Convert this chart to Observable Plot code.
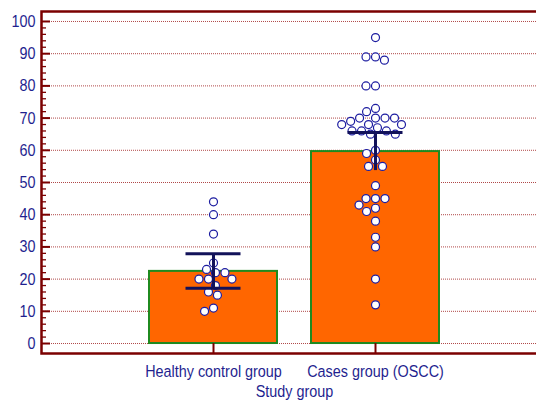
<!DOCTYPE html>
<html><head><meta charset="utf-8">
<script src="https://cdn.jsdelivr.net/npm/d3@7"></script>
<script src="https://cdn.jsdelivr.net/npm/@observablehq/plot@0.6"></script>
<style>
html,body{margin:0;padding:0;overflow:hidden;background:#fff;}
#chart{position:relative;width:536px;height:402px;overflow:hidden;}
#chart svg{position:absolute;left:0;top:0;}
</style></head><body><div id="chart"></div>
<script>
// ---- data ----
const groups = ["Healthy control group", "Cases group (OSCC)"];
const groupMeans = [22.4, 59.6];
const ciLow = [17.2, 53.7];
const ciHigh = [27.9, 65.5];
const lowCapShown = [true, false];
const healthyValues = [44, 40, 34, 25, 23, 22, 22, 20, 20, 20, 18, 16, 15, 11, 10];
const casesValues = [95, 89, 89, 88, 80, 80, 73, 72, 70, 70, 70, 70, 69, 68, 68, 68, 67, 66, 66, 66, 65, 65, 60, 59, 57, 55, 55, 49, 45, 45, 45, 43, 42, 41, 38, 33, 30, 20, 12];
const yTicks = [0, 10, 20, 30, 40, 50, 60, 70, 80, 90, 100];
const yMinorTicks = d3.range(2, 100, 2).filter(v => v % 10 !== 0);
const yDomain = [-3.1, 103.1];
const axisTitle = "Study group";

// ---- styling ----
const W = 536, H = 402;
const navy = "#1f1f8f", darkRed = "#7b0000";
const font = {fontFamily: "'Liberation Sans', Arial, sans-serif", fontSize: "14.4px"};

const groupRows = groups.map((g, i) => ({group: g, mean: groupMeans[i], lo: ciLow[i], hi: ciHigh[i], lowCap: lowCapShown[i]}));
const pointRows = [
  ...healthyValues.map(v => ({group: groups[0], value: v})),
  ...casesValues.map(v => ({group: groups[1], value: v}))
];
const capRows = [
  ...groupRows.map(d => ({group: d.group, y: d.hi})),
  ...groupRows.filter(d => d.lowCap).map(d => ({group: d.group, y: d.lo}))
];

const backMarginLeft = 41, backMarginRight = -6;
const frameW = W - backMarginLeft - backMarginRight;

const back = Plot.plot({
  width: W, height: H,
  marginLeft: backMarginLeft, marginRight: backMarginRight, marginTop: 11, marginBottom: 49,
  style: {...font, color: navy, background: "white"},
  y: {domain: yDomain, ticks: yTicks, tickSize: 0, tickPadding: 6, label: null, tickFormat: d => String(d)},
  marks: [
    Plot.ruleY(yTicks, {stroke: "#b04848", strokeDasharray: "1,1", strokeWidth: 1}),
    Plot.tickY(yMinorTicks, {stroke: darkRed, strokeWidth: 1.3, insetRight: frameW - 5}),
    Plot.tickY(yTicks, {stroke: darkRed, strokeWidth: 2, insetRight: frameW - 9}),
    Plot.frame({stroke: darkRed, strokeWidth: 2.5})
  ]
});

const front = Plot.plot({
  width: W, height: H,
  marginLeft: 68, marginRight: 16, marginTop: 11, marginBottom: 49,
  style: {...font, color: navy, background: "transparent"},
  fx: {domain: groups, paddingInner: 0.21, paddingOuter: 0.5, axis: "bottom", label: axisTitle,
       labelAnchor: "center", labelOffset: 43, tickSize: 0, tickPadding: 12},
  y: {domain: yDomain, axis: null},
  marks: [
    Plot.barY(groupRows, {fx: "group", y: "mean", fill: "#ff6600", stroke: "#1f8a1f", strokeWidth: 2}),
    Plot.ruleX(groupRows, {fx: "group", x: null, y1: yDomain[0], y2: 0, stroke: darkRed, strokeWidth: 2}),
    Plot.dot(pointRows, Plot.dodgeX({anchor: "middle", padding: 1.5},
      {fx: "group", y: "value", r: 4, fill: "white", stroke: "#1c1ca0", strokeWidth: 1.2})),
    Plot.ruleX(groupRows, {fx: "group", x: null, y1: "lo", y2: "hi", stroke: "#12125a", strokeWidth: 3}),
    Plot.tickY(capRows, {fx: "group", y: "y", stroke: "#12125a", strokeWidth: 3, insetLeft: 36.5, insetRight: 36.5})
  ]
});

const chart = document.getElementById("chart");
chart.appendChild(back);
chart.appendChild(front);

// the reference text is slightly stretched vertically
for (const t of chart.querySelectorAll("text")) {
  const b = t.getBBox();
  const cy = b.y + b.height / 2;
  t.setAttribute("transform", (t.getAttribute("transform") || "") + ` translate(0,${cy}) scale(1,1.16) translate(0,${-cy})`);
}
</script></body></html>
